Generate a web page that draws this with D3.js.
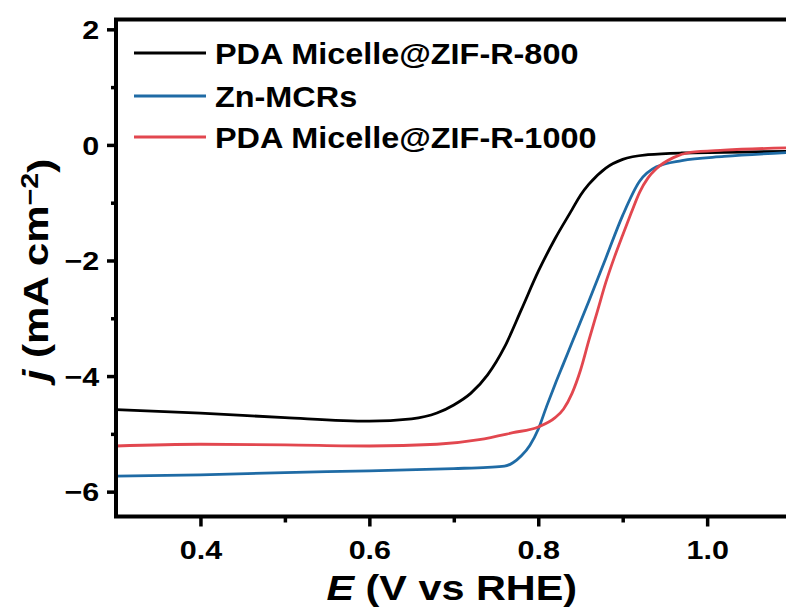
<!DOCTYPE html>
<html>
<head>
<meta charset="utf-8">
<script src="https://d3js.org/d3.v7.min.js"></script>
<style>
  html, body { margin: 0; padding: 0; background: #fff; }
  svg { display: block; }
  text { font-family: "Liberation Sans", Arial, sans-serif; font-weight: bold; fill: #000; }
</style>
</head>
<body>
<svg id="chart" width="786" height="608"></svg>
<script>
// ---- data ----
const seriesNames = ["PDA Micelle@ZIF-R-800", "Zn-MCRs", "PDA Micelle@ZIF-R-1000"];
const seriesColors = ["#000000", "#1f6ba5", "#e2474f"];

const E800 = [0.30, 0.40, 0.50, 0.60, 0.65, 0.68, 0.70, 0.72, 0.74, 0.76, 0.78, 0.80, 0.82, 0.84, 0.85, 0.86, 0.88, 0.90, 0.93, 0.97, 1.02, 1.10];
const j800 = [-4.58, -4.64, -4.72, -4.78, -4.74, -4.64, -4.50, -4.30, -3.98, -3.50, -2.85, -2.19, -1.62, -1.12, -0.87, -0.68, -0.40, -0.25, -0.17, -0.14, -0.13, -0.11];

const EZn = [0.30, 0.40, 0.50, 0.60, 0.70, 0.74, 0.76, 0.77, 0.78, 0.79, 0.80, 0.81, 0.82, 0.83, 0.84, 0.86, 0.88, 0.90, 0.92, 0.94, 0.97, 1.02, 1.10];
const jZn = [-5.73, -5.71, -5.67, -5.64, -5.60, -5.58, -5.56, -5.50, -5.38, -5.20, -4.92, -4.52, -4.14, -3.78, -3.42, -2.70, -1.96, -1.22, -0.63, -0.38, -0.27, -0.20, -0.13];

const E1000 = [0.30, 0.40, 0.50, 0.60, 0.68, 0.73, 0.77, 0.80, 0.82, 0.83, 0.84, 0.85, 0.86, 0.87, 0.88, 0.89, 0.90, 0.91, 0.92, 0.93, 0.94, 0.96, 0.98, 1.02, 1.10];
const j1000 = [-5.21, -5.18, -5.19, -5.21, -5.18, -5.10, -4.98, -4.88, -4.72, -4.57, -4.30, -3.90, -3.38, -2.88, -2.38, -1.95, -1.56, -1.18, -0.82, -0.57, -0.41, -0.22, -0.13, -0.09, -0.05];

const xMajorTicks = [0.4, 0.6, 0.8, 1.0];
const xMinorTicks = [0.5, 0.7, 0.9, 1.1];
const yMajorTicks = [2, 0, -2, -4, -6];
const yMinorTicks = [1, -1, -3, -5];

// ---- layout ----
const svg = d3.select("#chart");
const pLeft = 116, pRight = 791.6, pTop = 19.5, pBottom = 516.5;

const x = d3.scaleLinear().domain([0.3, 1.1]).range([pLeft, pRight]);
const y = d3.scaleLinear().domain([-6.43, 2.17]).range([pBottom, pTop]);

const series = [
  { name: seriesNames[0], color: seriesColors[0], E: E800, j: j800 },
  { name: seriesNames[1], color: seriesColors[1], E: EZn, j: jZn },
  { name: seriesNames[2], color: seriesColors[2], E: E1000, j: j1000 }
];

svg.append("clipPath").attr("id", "clip")
  .append("rect").attr("x", pLeft).attr("y", pTop).attr("width", pRight - pLeft).attr("height", pBottom - pTop);

const line = d3.line()
  .x(d => x(d[0])).y(d => y(d[1]))
  .curve(d3.curveMonotoneX);

const plot = svg.append("g").attr("clip-path", "url(#clip)");
series.forEach(s => {
  plot.append("path")
    .datum(s.E.map((e, i) => [e, s.j[i]]))
    .attr("fill", "none")
    .attr("stroke", s.color)
    .attr("stroke-width", 2.8)
    .attr("stroke-linejoin", "round")
    .attr("d", line);
});

// ---- axes ----
const fmtX = d3.format(".1f");
const fmtY = d3.format("d");

const xAxis = svg.append("g").attr("transform", `translate(0,${pBottom})`)
  .call(d3.axisBottom(x).tickValues(xMajorTicks).tickSize(10).tickSizeOuter(0).tickPadding(14).tickFormat(fmtX));
xAxis.select(".domain").remove();
xAxis.selectAll(".tick line").attr("stroke", "#000").attr("stroke-width", 3.5);
xAxis.selectAll(".tick text")
  .style("font-size", "26.5px")
  .attr("font-family", null)
  .attr("dy", "0.71em")
  .attr("transform", "scale(1.15,1)");

const xMinor = svg.append("g").attr("transform", `translate(0,${pBottom})`)
  .call(d3.axisBottom(x).tickValues(xMinorTicks).tickSize(6).tickSizeOuter(0).tickFormat(""));
xMinor.select(".domain").remove();
xMinor.selectAll(".tick line").attr("stroke", "#000").attr("stroke-width", 3.5);

const yAxis = svg.append("g").attr("transform", `translate(${pLeft},0)`)
  .call(d3.axisLeft(y).tickValues(yMajorTicks).tickSize(9).tickSizeOuter(0).tickPadding(0).tickFormat(fmtY));
yAxis.select(".domain").remove();
yAxis.selectAll(".tick line").attr("stroke", "#000").attr("stroke-width", 3.5);
yAxis.selectAll(".tick text")
  .style("font-size", "26.5px")
  .attr("font-family", null)
  .attr("x", -14.5)
  .attr("dy", "0.35em")
  .attr("transform", "scale(1.15,1)");

const yMinor = svg.append("g").attr("transform", `translate(${pLeft},0)`)
  .call(d3.axisLeft(y).tickValues(yMinorTicks).tickSize(5).tickSizeOuter(0).tickFormat(""));
yMinor.select(".domain").remove();
yMinor.selectAll(".tick line").attr("stroke", "#000").attr("stroke-width", 3.5);

// frame
svg.append("path")
  .attr("d", `M${pRight},${pTop}H${pLeft}V${pBottom}H${pRight}V${pTop}`)
  .attr("fill", "none").attr("stroke", "#000").attr("stroke-width", 4).attr("stroke-linecap", "square");

// axis titles
const xt = svg.append("text")
  .attr("transform", `translate(${(pLeft + pRight) / 2 - 2},600) scale(1.15,1)`)
  .attr("text-anchor", "middle")
  .style("font-size", "36px");
xt.append("tspan").style("font-style", "italic").text("E");
xt.append("tspan").text(" (V vs RHE)");

const yt = svg.append("text")
  .attr("transform", `translate(48,${(pTop + pBottom) / 2 + 2}) rotate(-90) scale(1.2,1)`)
  .attr("text-anchor", "middle")
  .style("font-size", "35px");
yt.append("tspan").style("font-style", "italic").text("j");
yt.append("tspan").text(" (mA cm");
yt.append("tspan").attr("dy", "-0.42em").style("font-size", "24px").text("\u22122");
yt.append("tspan").attr("dy", "0.42em").text(")");

// legend
const legend = svg.append("g");
const legendY = [53, 96, 137];
series.forEach((s, i) => {
  const g = legend.append("g").attr("transform", `translate(0,${legendY[i]})`);
  g.append("line").attr("x1", 134).attr("x2", 206).attr("y1", 0).attr("y2", 0)
    .attr("stroke", s.color).attr("stroke-width", 2.8);
  g.append("text")
    .attr("transform", "translate(215,0) scale(1.08,1)")
    .attr("dy", "0.36em")
    .style("font-size", "30px")
    .text(s.name);
});
</script>
</body>
</html>
